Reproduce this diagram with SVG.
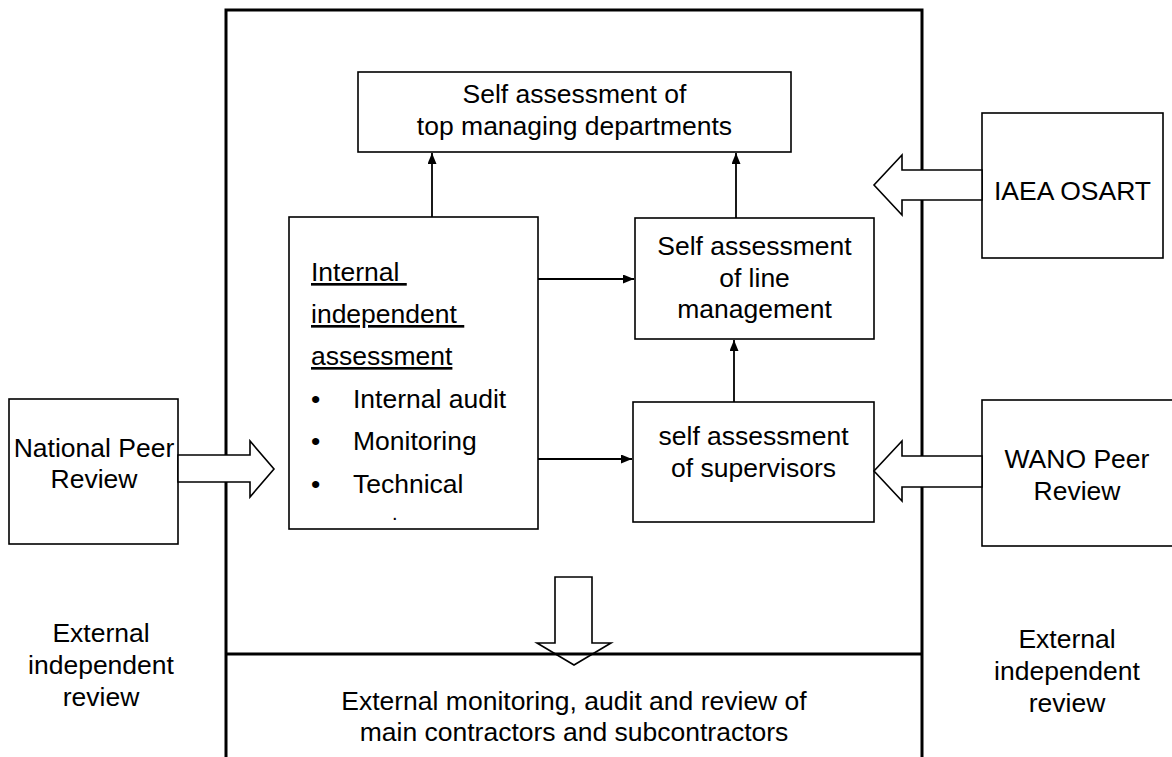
<svg xmlns="http://www.w3.org/2000/svg" width="1172" height="757" viewBox="0 0 1172 757">
<style>
text{font-family:"Liberation Sans",Arial,sans-serif;font-size:26.5px;fill:#000}
.c{text-anchor:middle}
.box{fill:#fff;stroke:#000;stroke-width:1.6}
.frame{fill:none;stroke:#000;stroke-width:3}
.blk{fill:#fff;stroke:#000;stroke-width:1.6;stroke-linejoin:miter}
.ln{stroke:#000;stroke-width:1.8;fill:none}
.u{text-decoration:underline;white-space:pre}
</style>
<defs>
<marker id="ah" viewBox="0 0 11 9" refX="11" refY="4.5" markerWidth="11" markerHeight="9" markerUnits="userSpaceOnUse" orient="auto">
<path d="M0,0 L11,4.5 L0,9 Z" fill="#000"/>
</marker>
</defs>
<rect width="1172" height="757" fill="#fff"/>
<g id="frame">
<polyline class="frame" points="226,760 226,10 922,10 922,760"/>
</g>
<g id="bottom-arrow">
<polygon class="blk" points="555,577 592,577 592,643 611,643 574,665 537,643 555,643"/>
</g>
<g id="divider">
<line class="frame" x1="226" y1="654" x2="922" y2="654"/>
</g>
<g id="top-managing">
<rect class="box" x="358" y="72" width="433" height="80"/>
<text class="c" x="574.5" y="103">Self assessment of</text>
<text class="c" x="574.5" y="135">top managing departments</text>
</g>
<g id="internal-independent">
<rect class="box" x="289" y="217" width="249" height="312"/>
<text class="u" x="311" y="281">Internal </text>
<text class="u" x="311" y="323">independent </text>
<text class="u" x="311" y="365">assessment</text>
<text x="311" y="408">•</text>
<text x="353" y="408">Internal audit</text>
<text x="311" y="450">•</text>
<text x="353" y="450">Monitoring</text>
<text x="311" y="493">•</text>
<text x="353" y="493">Technical</text>
<text x="392" y="520" style="font-size:20px">.</text>
</g>
<g id="line-management">
<rect class="box" x="635" y="218" width="239" height="121"/>
<text class="c" x="754.5" y="255">Self assessment</text>
<text class="c" x="754.5" y="287">of line</text>
<text class="c" x="754.5" y="318">management</text>
</g>
<g id="supervisors">
<rect class="box" x="633" y="402" width="241" height="120"/>
<text class="c" x="753.5" y="445">self assessment</text>
<text class="c" x="753.5" y="477">of supervisors</text>
</g>
<g id="national-peer">
<rect class="box" x="9" y="399" width="169" height="145"/>
<text class="c" x="94" y="457">National Peer</text>
<text class="c" x="94" y="488">Review</text>
</g>
<g id="iaea-osart">
<rect class="box" x="982" y="113" width="181" height="145"/>
<text class="c" x="1072.5" y="200">IAEA OSART</text>
</g>
<g id="wano">
<rect class="box" x="982" y="400" width="195" height="146"/>
<text class="c" x="1077" y="468">WANO Peer</text>
<text class="c" x="1077" y="500">Review</text>
</g>
<g id="ext-left">
<text class="c" x="101" y="642">External</text>
<text class="c" x="101" y="674">independent</text>
<text class="c" x="101" y="706">review</text>
</g>
<g id="ext-right">
<text class="c" x="1067" y="648">External</text>
<text class="c" x="1067" y="680">independent</text>
<text class="c" x="1067" y="712">review</text>
</g>
<g id="external-monitoring">
<text class="c" x="574" y="710">External monitoring, audit and review of</text>
<text class="c" x="574" y="741">main contractors and subcontractors</text>
</g>
<g id="connectors">
<line class="ln" x1="432" y1="217" x2="432" y2="153" marker-end="url(#ah)"/>
<line class="ln" x1="736" y1="218" x2="736" y2="153" marker-end="url(#ah)"/>
<line class="ln" x1="538" y1="279" x2="634" y2="279" marker-end="url(#ah)"/>
<line class="ln" x1="538" y1="459" x2="632" y2="459" marker-end="url(#ah)"/>
<line class="ln" x1="734" y1="402" x2="734" y2="340" marker-end="url(#ah)"/>
<polygon class="blk" points="178,455 250,455 250,441 274,469 250,497 250,482 178,482"/>
<polygon class="blk" points="982,170 902,170 902,155 874,185 902,215 902,200 982,200"/>
<polygon class="blk" points="982,456 902,456 902,441 874,471 902,501 902,487 982,487"/>
</g>
</svg>
